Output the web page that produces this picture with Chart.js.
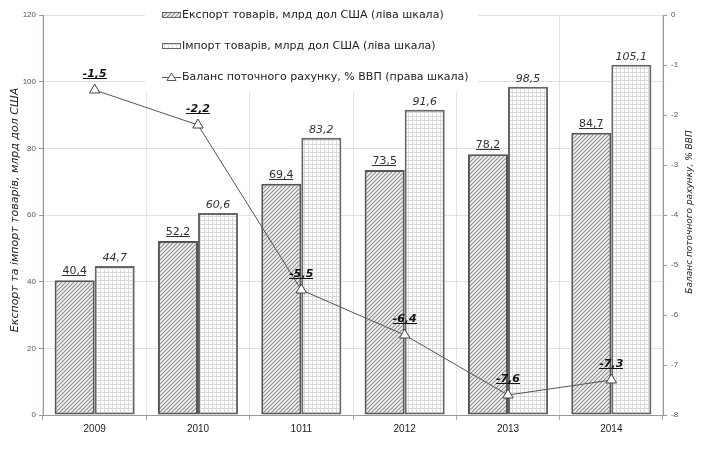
<!DOCTYPE html>
<html><head><meta charset="utf-8">
<script src="https://cdn.jsdelivr.net/npm/chart.js@4"></script>
<style>html,body{margin:0;padding:0;background:#fff}#wrap{width:712px;height:452px}</style>
</head><body><div id="wrap"><canvas id="c" width="712" height="452"></canvas></div>
<script>
const categories = ['2009', '2010', '1011', '2012', '2013', '2014'];
const exportValues = [40.4, 52.2, 69.4, 73.5, 78.2, 84.7];
const importValues = [44.7, 60.6, 83.2, 91.6, 98.5, 105.1];
const balanceValues = [-1.5, -2.2, -5.5, -6.4, -7.6, -7.3];
const leftTicks = [0, 20, 40, 60, 80, 100, 120];
const rightTicks = [-8, -7, -6, -5, -4, -3, -2, -1, 0];
const seriesNames = [
  'Експорт товарів, млрд дол США (ліва шкала)',
  'Імпорт товарів, млрд дол США (ліва шкала)',
  'Баланс поточного рахунку, % ВВП (права шкала)'
];
const leftTitle = 'Експорт та імпорт товарів, млрд дол США';
const rightTitle = 'Баланс поточного рахунку, % ВВП';

const canvas = document.getElementById('c');
const ctx = canvas.getContext('2d');

function hatchPattern() {
  const c = document.createElement('canvas'); c.width = 4; c.height = 4;
  const x = c.getContext('2d');
  x.fillStyle = '#f4f4f4'; x.fillRect(0, 0, 4, 4);
  x.strokeStyle = '#8c8c8c'; x.lineWidth = 1.1;
  x.beginPath();
  x.moveTo(0, 4); x.lineTo(4, 0);
  x.moveTo(-1, 1); x.lineTo(1, -1);
  x.moveTo(3, 5); x.lineTo(5, 3);
  x.stroke();
  return ctx.createPattern(c, 'repeat');
}
function gridPattern() {
  const c = document.createElement('canvas'); c.width = 4; c.height = 4;
  const x = c.getContext('2d');
  x.fillStyle = '#ffffff'; x.fillRect(0, 0, 4, 4);
  x.fillStyle = '#dadada';
  x.fillRect(0, 0, 4, 1); x.fillRect(0, 0, 1, 4);
  return ctx.createPattern(c, 'repeat');
}
const hatch = hatchPattern();
const grid = gridPattern();

function fmt(v) { return String(v).replace('.', ','); }

function drawText(c, text, x, y, font, color, underline) {
  c.font = font; c.fillStyle = color; c.textAlign = 'center'; c.textBaseline = 'alphabetic';
  c.fillText(text, x, y);
  if (underline) {
    const w = c.measureText(text).width;
    c.fillRect(Math.round(x - w / 2), Math.round(y + 1), Math.round(w), 1);
  }
}

const overlay = {
  id: 'overlay',
  beforeDatasetsDraw(chart) {
    const c = chart.ctx;
    c.save();
    c.fillStyle = '#ffffff';
    c.fillRect(145, 0, 333, 92);
    c.restore();
  },
  afterDatasetsDraw(chart) {
    const c = chart.ctx;
    c.save();
    const m0 = chart.getDatasetMeta(0), m1 = chart.getDatasetMeta(1), m2 = chart.getDatasetMeta(2);
    m0.data.forEach((b, i) => drawText(c, fmt(exportValues[i]), b.x, b.y - 6, '11px "DejaVu Sans"', '#333', true));
    m1.data.forEach((b, i) => drawText(c, fmt(importValues[i]), b.x, b.y - 5, 'italic 11px "DejaVu Sans"', '#333', false));
    m2.data.forEach((p, i) => drawText(c, fmt(balanceValues[i]), p.x, p.y - 13, 'italic bold 11px "DejaVu Sans"', '#111', true));
    c.restore();
  },
  afterDraw(chart) {
    const c = chart.ctx;
    c.save();
    // legend
    const lx = 162, ty = [15, 46, 77];
    c.font = '11px "DejaVu Sans"'; c.textAlign = 'left'; c.textBaseline = 'middle'; c.fillStyle = '#222';
    seriesNames.forEach((n, i) => c.fillText(n, 182, ty[i]));
    c.fillStyle = hatch; c.fillRect(lx, ty[0] - 3, 18, 6);
    c.strokeStyle = '#666'; c.lineWidth = 1; c.strokeRect(lx + 0.5, ty[0] - 2.5, 18, 5);
    c.fillStyle = grid; c.fillRect(lx, ty[1] - 3, 18, 6);
    c.strokeStyle = '#666'; c.strokeRect(lx + 0.5, ty[1] - 2.5, 18, 5);
    c.strokeStyle = '#555'; c.beginPath(); c.moveTo(lx, ty[2] + 0.5); c.lineTo(lx + 19, ty[2] + 0.5); c.stroke();
    c.fillStyle = '#fff'; c.beginPath();
    c.moveTo(lx + 9.5, ty[2] - 4); c.lineTo(lx + 14, ty[2] + 3.5); c.lineTo(lx + 5, ty[2] + 3.5); c.closePath();
    c.fill(); c.stroke();
    // axis titles
    c.fillStyle = '#222'; c.textAlign = 'center'; c.textBaseline = 'middle';
    c.font = 'italic 11px "DejaVu Sans"';
    c.translate(15, 210); c.rotate(-Math.PI / 2); c.fillText(leftTitle, 0, 0);
    c.setTransform(1, 0, 0, 1, 0, 0);
    c.font = 'italic 9px "DejaVu Sans"';
    c.translate(690, 212); c.rotate(-Math.PI / 2); c.fillText(rightTitle, 0, 0);
    c.restore();
  }
};

new Chart(canvas, {
  data: {
    labels: categories,
    datasets: [
      { type: 'bar', label: seriesNames[0], data: exportValues, yAxisID: 'y', backgroundColor: hatch,
        borderColor: '#555', borderWidth: 2, borderSkipped: false, categoryPercentage: 0.775, barPercentage: 1, order: 2 },
      { type: 'bar', label: seriesNames[1], data: importValues, yAxisID: 'y', backgroundColor: grid,
        borderColor: '#666', borderWidth: 2, borderSkipped: false, categoryPercentage: 0.775, barPercentage: 1, order: 2 },
      { type: 'line', label: seriesNames[2], data: balanceValues, yAxisID: 'y1', borderColor: '#555', borderWidth: 1,
        pointStyle: 'triangle', pointRadius: 6, pointBackgroundColor: '#fff', pointBorderColor: '#444', pointBorderWidth: 1,
        tension: 0, order: 1 }
    ]
  },
  options: {
    responsive: false, animation: false,
    layout: { padding: { top: 15, left: 0, right: 0, bottom: 0 } },
    plugins: { legend: { display: false }, tooltip: { enabled: false } },
    scales: {
      x: {
        offset: true,
        grid: { offset: true, color: 'rgba(205,218,236,0.7)', tickColor: '#aaa', tickLength: 5 },
        border: { color: '#999' },
        ticks: { font: { family: 'Liberation Sans', size: 10 }, color: '#222', padding: 3 },
        afterFit(s) { s.height = 37; }
      },
      y: {
        position: 'left', min: 0, max: 120,
        afterBuildTicks(s) { s.ticks = leftTicks.map(v => ({ value: v })); },
        grid: { color: 'rgba(205,218,236,0.8)', tickColor: '#999', tickLength: 4 },
        border: { color: '#999' },
        ticks: { font: { family: 'Liberation Sans', size: 8 }, color: '#555', padding: 3 },
        afterFit(s) { s.width = 43; }
      },
      y1: {
        position: 'right', min: -8, max: 0,
        afterBuildTicks(s) { s.ticks = rightTicks.map(v => ({ value: v })); },
        grid: { drawOnChartArea: false, tickColor: '#999', tickLength: 4 },
        border: { color: '#999' },
        ticks: { font: { family: 'Liberation Sans', size: 8 }, color: '#555', padding: 4 },
        afterFit(s) { s.width = 49; }
      }
    }
  },
  plugins: [overlay]
});
</script>
</body></html>
